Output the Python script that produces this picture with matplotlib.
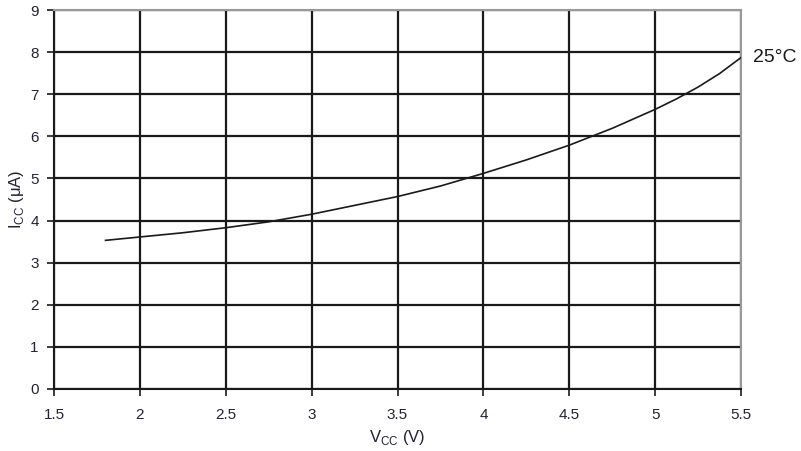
import matplotlib.pyplot as plt

plt.rcParams['font.family'] = ['Liberation Sans', 'DejaVu Sans']

# Supply current vs supply voltage at 25°C
vcc = [1.8, 2.0, 2.25, 2.5, 2.75, 3.0, 3.25, 3.5, 3.75, 4.0, 4.25, 4.5, 4.75, 5.0, 5.125, 5.25, 5.375, 5.5]
icc = [3.53, 3.61, 3.71, 3.83, 3.97, 4.15, 4.36, 4.57, 4.82, 5.12, 5.44, 5.79, 6.19, 6.64, 6.89, 7.17, 7.49, 7.87]

x_ticks = [1.5, 2, 2.5, 3, 3.5, 4, 4.5, 5, 5.5]
x_tick_labels = ['1.5', '2', '2.5', '3', '3.5', '4', '4.5', '5', '5.5']
y_ticks = list(range(0, 10))

fig = plt.figure(figsize=(8.01, 4.51), dpi=100)
ax = fig.add_axes([54 / 801, 1 - 389 / 451, 687 / 801, 379 / 451])

ax.set_xlim(1.5, 5.5)
ax.set_ylim(0, 9)
ax.set_xticks(x_ticks)
ax.set_xticklabels(x_tick_labels)
ax.set_yticks(y_ticks)

# black grid
ax.grid(True, color='#1a1a1a', linewidth=1.6)
ax.set_axisbelow(True)

ax.plot(vcc, icc, color='#1a1a1a', linewidth=1.2, zorder=3)

for side in ['top', 'right']:
    ax.spines[side].set_color('#999999')
    ax.spines[side].set_linewidth(1.5)
for side in ['left', 'bottom']:
    ax.spines[side].set_color('#1a1a1a')
    ax.spines[side].set_linewidth(1.5)

ax.tick_params(axis='both', direction='out', length=5, width=1.2, color='#1a1a1a',
               labelsize=11, labelcolor='#222233')
ax.tick_params(axis='x', pad=9)
ax.tick_params(axis='y', pad=6)

ax.set_xlabel(r'V$_{\mathregular{CC}}$ (V)', fontsize=12, color='#222233', labelpad=4)
ax.set_ylabel(r'I$_{\mathregular{CC}}$ ($\mathregular{\mu}$A)', fontsize=12, color='#222233')
ax.yaxis.set_label_coords(-28 / 687, 0.5)

ax.text(5.57, 7.87, '25°C', fontsize=14, color='#1a1a1a', va='center', ha='left', clip_on=False)

fig.savefig('out.png', dpi=100)
